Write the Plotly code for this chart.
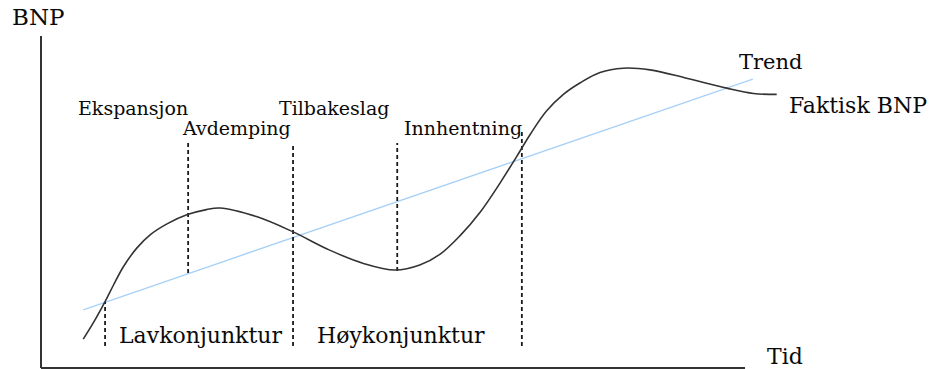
import plotly.graph_objects as go

bnp_t = [6.0, 7.4, 9.1, 10.3, 11.7, 13.6, 15.5, 17.9, 20.8, 23.5, 25.4, 30.6,
         35.8, 41.0, 45.8, 50.3, 53.8, 56.7, 59.5, 62.4, 65.2, 67.6, 69.5, 71.8,
         74.2, 76.6, 79.4, 82.7, 86.5, 91.7, 97.4, 101.2, 104.5]
bnp_v = [8.7, 13.5, 20.0, 25.0, 30.5, 36.1, 40.1, 43.4, 46.2, 47.7, 48.2, 45.6,
         41.0, 35.5, 31.5, 29.5, 31.0, 34.3, 39.8, 47.0, 55.7, 63.8, 70.4, 77.4,
         82.4, 85.9, 89.0, 90.3, 89.8, 87.3, 84.3, 82.7, 82.4]

# Trend line (start / end)
trend_t = [6.0, 101.1]
trend_v = [17.5, 87.0]

# Phase boundaries (dashed vertical lines): time, top, bottom
phase_t = [9.1, 20.9, 35.8, 50.6, 68.3]
phase_top = [19.9, 67.8, 67.8, 67.8, 71.4]
phase_bottom = [6.6, 28.6, 6.6, 29.2, 6.6]

# Axis extents
axis_t = [0, 100]
axis_v = [0, 100]

# Labels
phase_labels = ["Ekspansjon", "Avdemping", "Tilbakeslag", "Innhentning"]
phase_label_t = [13.1, 27.7, 41.6, 59.9]
phase_label_v = [78.3, 72.3, 78.3, 72.3]

cycle_labels = ["Lavkonjunktur", "Høykonjunktur"]
cycle_label_t = [22.6, 51.1]
cycle_label_v = [9.9, 9.9]

misc_labels = ["BNP", "Trend", "Faktisk BNP", "Tid"]
misc_label_t = [-0.4, 103.6, 116.0, 105.7]
misc_label_v = [105.7, 92.2, 79.2, 3.6]

FONT = "DejaVu Serif"
TXT = "#0a0a0a"
misc_sizes = {"BNP": 23, "Trend": 21, "Faktisk BNP": 22, "Tid": 22}

fig = go.Figure()

# axes
fig.add_trace(go.Scatter(x=[axis_t[0], axis_t[1]], y=[0, 0], mode="lines",
                         line=dict(color="#333333", width=2), hoverinfo="skip"))
fig.add_trace(go.Scatter(x=[0, 0], y=[axis_v[0], axis_v[1]], mode="lines",
                         line=dict(color="#333333", width=2), hoverinfo="skip"))

# trend
fig.add_trace(go.Scatter(x=trend_t, y=trend_v, mode="lines",
                         line=dict(color="#a9d1f7", width=1.4), hoverinfo="skip"))

# phase dashed lines
for t, top, bot in zip(phase_t, phase_top, phase_bottom):
    fig.add_trace(go.Scatter(x=[t, t], y=[bot, top], mode="lines",
                             line=dict(color="#1a1a1a", width=1.8, dash="4px,3px"),
                             hoverinfo="skip"))

# actual GDP
fig.add_trace(go.Scatter(x=bnp_t, y=bnp_v, mode="lines",
                         line=dict(color="#333333", width=1.6, shape="spline", smoothing=1.0),
                         hoverinfo="skip"))

annotations = []
for txt, t, v in zip(phase_labels, phase_label_t, phase_label_v):
    annotations.append(dict(x=t, y=v, text=txt, showarrow=False, xanchor="center",
                            yanchor="middle", font=dict(family=FONT, size=19, color=TXT)))
for txt, t, v in zip(cycle_labels, cycle_label_t, cycle_label_v):
    annotations.append(dict(x=t, y=v, text=txt, showarrow=False, xanchor="center",
                            yanchor="middle", font=dict(family=FONT, size=22, color=TXT)))
for txt, t, v in zip(misc_labels, misc_label_t, misc_label_v):
    annotations.append(dict(x=t, y=v, text=txt, showarrow=False, xanchor="center",
                            yanchor="middle",
                            font=dict(family=FONT, size=misc_sizes[txt], color=TXT)))

fig.update_layout(
    width=933, height=369,
    margin=dict(l=0, r=0, t=0, b=0),
    paper_bgcolor="white", plot_bgcolor="white",
    showlegend=False,
    xaxis=dict(range=[-5.824, 126.70], visible=False, fixedrange=True),
    yaxis=dict(range=[-0.301, 110.84], visible=False, fixedrange=True),
    annotations=annotations,
)

fig.write_html("out.html", config={"displayModeBar": False},
               post_script="document.body.style.margin='0';document.body.style.overflow='hidden';")
